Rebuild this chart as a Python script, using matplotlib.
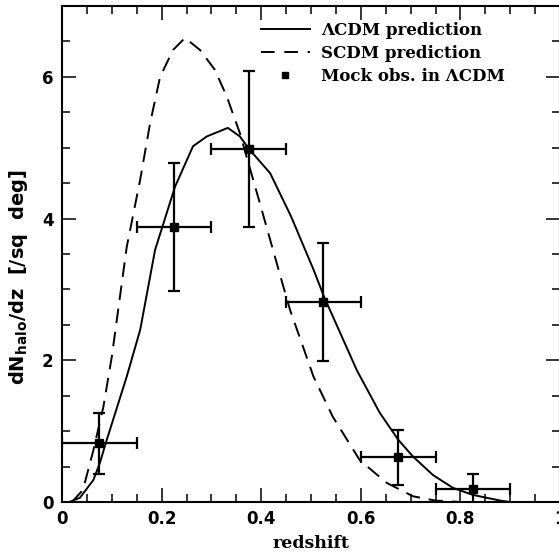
import numpy as np
import matplotlib
matplotlib.use("Agg")
import matplotlib.pyplot as plt
from matplotlib.lines import Line2D
from matplotlib.legend_handler import HandlerLine2D

# LCDM prediction (solid)
lcdm_z = [0.0, 0.015, 0.036, 0.063, 0.076, 0.09, 0.13, 0.157, 0.187, 0.227, 0.263,
          0.291, 0.333, 0.357, 0.377, 0.418, 0.46, 0.505, 0.526, 0.592, 0.638,
          0.675, 0.705, 0.745, 0.785, 0.825, 0.88, 0.9]
lcdm_n = [0.0, 0.0, 0.06, 0.31, 0.55, 0.88, 1.77, 2.43, 3.56, 4.45, 5.02,
          5.16, 5.28, 5.16, 4.97, 4.64, 4.03, 3.28, 2.9, 1.86, 1.26,
          0.88, 0.64, 0.38, 0.20, 0.10, 0.02, 0.0]

# SCDM prediction (dashed)
scdm_z = [0.02, 0.042, 0.063, 0.083, 0.10, 0.13, 0.157, 0.177, 0.197, 0.223, 0.247,
          0.277, 0.307, 0.331, 0.357, 0.398, 0.438, 0.458, 0.505, 0.544, 0.598,
          0.652, 0.705, 0.75, 0.8]
scdm_n = [0.0, 0.17, 0.73, 1.34, 2.05, 3.6, 4.55, 5.35, 6.0, 6.38, 6.55,
          6.38, 6.1, 5.72, 5.21, 4.2, 3.2, 2.71, 1.77, 1.2, 0.59,
          0.27, 0.08, 0.02, 0.0]

# mock observations in LCDM
obs_z = [0.075, 0.225, 0.375, 0.525, 0.675, 0.825]
obs_n = [0.83, 3.88, 4.98, 2.82, 0.63, 0.18]
obs_zerr = [0.075, 0.075, 0.075, 0.075, 0.075, 0.075]
obs_nerr = [0.43, 0.9, 1.1, 0.83, 0.39, 0.21]


class RightMarker(HandlerLine2D):
    # put the legend marker at the right end of the handle
    def get_xdata(self, legend, xdescent, ydescent, width, height, fontsize):
        xdata = np.array([-xdescent, width - xdescent])
        return xdata, np.array([width - xdescent - 3])


fig = plt.figure(figsize=(5.59, 5.54), dpi=100)
ax = fig.add_axes([62 / 559, 52 / 554, 498 / 559, 496 / 554])

ax.plot(lcdm_z, lcdm_n, color="k", lw=1.4)
ax.plot(scdm_z, scdm_n, color="k", lw=1.4, dashes=(7.5, 4.5))
ax.errorbar(obs_z, obs_n, xerr=obs_zerr, yerr=obs_nerr, fmt="s", color="k",
            ms=5.5, elinewidth=1.6, capsize=4, capthick=1.6)

ax.set_xlim(0, 1)
ax.set_ylim(0, 7)
ax.set_xticks([0, 0.2, 0.4, 0.6, 0.8, 1.0])
ax.set_xticklabels(["0", "0.2", "0.4", "0.6", "0.8", "1"])
ax.set_xticks(np.arange(0, 1.001, 0.05), minor=True)
ax.set_yticks([0, 2, 4, 6])
ax.set_yticks(np.arange(0, 7.01, 0.5), minor=True)
ax.tick_params(which="both", direction="in", top=True, right=True, width=1.1)
ax.tick_params(which="major", length=10, labelsize=12, pad=6)
ax.tick_params(which="minor", length=6)
for lab in ax.get_xticklabels() + ax.get_yticklabels():
    lab.set_fontweight("bold")
for sp in ax.spines.values():
    sp.set_linewidth(1.5)

ax.set_xlabel("redshift", fontsize=12.5, fontweight="bold", family="DejaVu Serif", labelpad=5)
ax.set_ylabel(r"dN$_{\mathbf{halo}}$/dz  [/sq  deg]", fontsize=14, fontweight="bold")
ax.yaxis.set_label_coords(-0.064, 0.454)

handles = [
    Line2D([], [], color="k", lw=1.4),
    Line2D([], [], color="k", lw=1.4, dashes=(7, 5)),
    Line2D([], [], color="k", ls="none", marker="s", ms=5),
]
labels = ["ΛCDM prediction", "SCDM prediction", "Mock obs. in ΛCDM"]
ax.legend(handles, labels, loc="upper left", bbox_to_anchor=(0.40, 0.968),
          frameon=False, borderpad=0, borderaxespad=0, handlelength=2.9,
          handletextpad=0.7, labelspacing=0.36,
          prop={"family": "DejaVu Serif", "weight": "bold", "size": 12},
          handler_map={handles[2]: RightMarker()})

fig.savefig("out.png", dpi=100)
